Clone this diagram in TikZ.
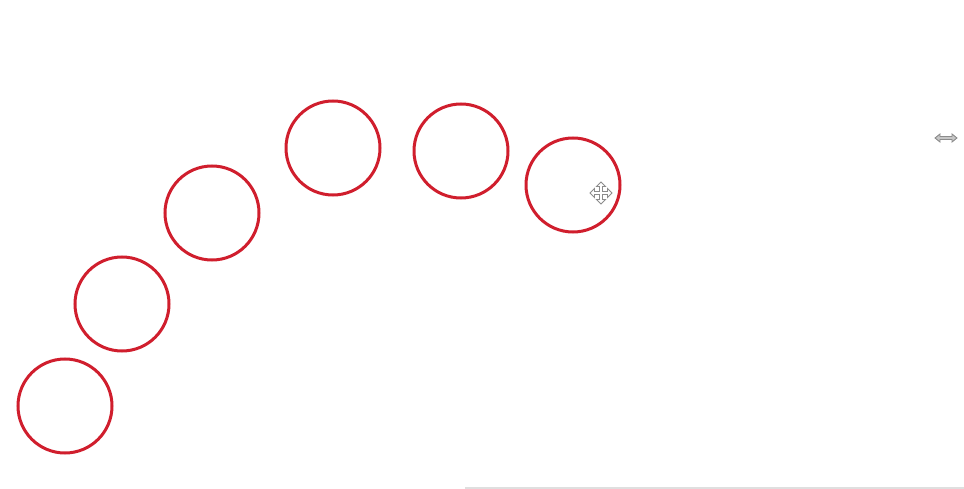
\documentclass[tikz,border=0pt]{standalone}
\definecolor{ringred}{RGB}{208,30,45}
\tikzset{
  ring/.style={circle,draw=ringred,line width=3pt,minimum size=94pt,inner sep=0pt},
  cursorshape/.style={draw=gray!90,fill=white,line width=0.9pt,line join=miter}
}

\begin{document}
\begin{tikzpicture}[x=1pt,y=-1pt]
\useasboundingbox (0,0) rectangle (964,489);
% the six rings
\node[ring] (r1) at (65,406) {};
\node[ring] (r2) at (122,304) {};
\node[ring] (r3) at (212,213) {};
\node[ring] (r4) at (333,148) {};
\node[ring] (r5) at (461,151) {};
\node[ring] (r6) at (573,185) {};
% move cursor
\coordinate (move) at (601,193);
\draw[cursorshape,shift={(move)}]
  (0,-11) -- (4.5,-6.5) -- (1.5,-6.5) -- (1.5,-1.5) -- (6.5,-1.5) -- (6.5,-4.5) -- (11,0)
  -- (6.5,4.5) -- (6.5,1.5) -- (1.5,1.5) -- (1.5,6.5) -- (4.5,6.5) -- (0,11) -- (-4.5,6.5)
  -- (-1.5,6.5) -- (-1.5,1.5) -- (-6.5,1.5) -- (-6.5,4.5) -- (-11,0) -- (-6.5,-4.5)
  -- (-6.5,-1.5) -- (-1.5,-1.5) -- (-1.5,-6.5) -- (-4.5,-6.5) -- cycle;
% resize cursor
\coordinate (resize) at (946,138);
\draw[cursorshape,fill=gray!45,shift={(resize)}]
  (-11,0) -- (-6,-4) -- (-6,-1.5) -- (6,-1.5) -- (6,-4) -- (11,0)
  -- (6,4) -- (6,1.5) -- (-6,1.5) -- (-6,4) -- cycle;
% edge at the bottom
\draw[gray!25,line width=1.5pt] (465,488) -- (964,488);
\end{tikzpicture}
\end{document}
